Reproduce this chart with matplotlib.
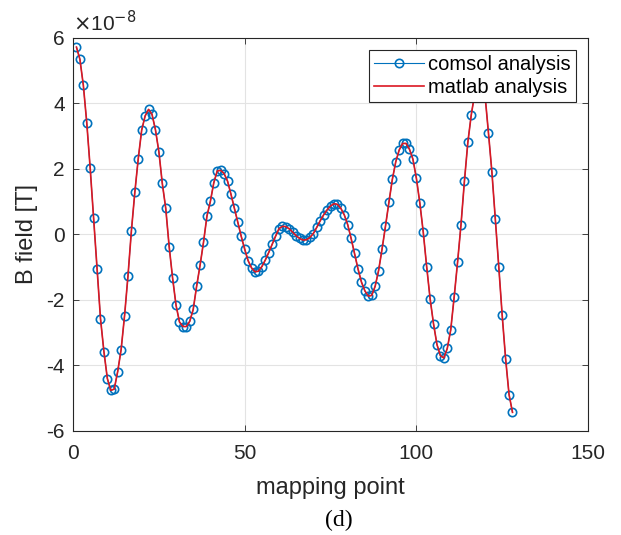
import matplotlib.pyplot as plt
from matplotlib.ticker import FuncFormatter
import numpy as np

# mapping point index along the path
mapping_point = list(range(1, 129))

# B field in units of 1e-8 T, comsol result
b_comsol = [
    5.72, 5.35, 4.56, 3.41, 2.02, 0.49, -1.04, -2.57, -3.58, -4.40,
    -4.76, -4.72, -4.19, -3.52, -2.49, -1.27, 0.11, 1.29, 2.32, 3.19,
    3.62, 3.82, 3.67, 3.20, 2.53, 1.56, 0.80, -0.37, -1.33, -2.16,
    -2.67, -2.81, -2.81, -2.65, -2.29, -1.58, -0.94, -0.24, 0.56, 1.01,
    1.58, 1.94, 1.96, 1.86, 1.63, 1.23, 0.80, 0.37, -0.06, -0.45,
    -0.80, -1.02, -1.14, -1.12, -0.98, -0.78, -0.55, -0.30, -0.05, 0.18,
    0.25, 0.24, 0.17, 0.07, -0.04, -0.12, -0.17, -0.16, -0.09, 0.03,
    0.22, 0.42, 0.60, 0.75, 0.87, 0.94, 0.92, 0.80, 0.60, 0.30,
    -0.12, -0.58, -1.05, -1.45, -1.72, -1.88, -1.86, -1.58, -1.10, -0.45,
    0.25, 0.98, 1.68, 2.22, 2.58, 2.78, 2.78, 2.60, 2.30, 1.72,
    0.97, 0.08, -0.98, -1.96, -2.73, -3.36, -3.70, -3.77, -3.48, -2.92,
    -1.92, -0.85, 0.30, 1.63, 2.82, 3.66, 4.30, 4.70, 4.68, 4.25,
    3.10, 1.91, 0.47, -0.98, -2.47, -3.80, -4.89, -5.43,
]
# matlab result lies on top of the comsol points
b_matlab = list(b_comsol)

x_ticks = [0, 50, 100, 150]
y_ticks = [-6e-8, -4e-8, -2e-8, 0, 2e-8, 4e-8, 6e-8]

plt.rcParams['font.family'] = ['Liberation Sans', 'DejaVu Sans']
plt.rcParams['axes.unicode_minus'] = False

fig = plt.figure(figsize=(6.21, 5.35), dpi=100)
ax = fig.add_axes([0.1176, 0.1944, 0.8293, 0.7346])

ax.plot(mapping_point, np.array(b_comsol) * 1e-8, color='#0072BD', lw=0.8,
        marker='o', ms=6, mfc='none', mec='#0072BD', mew=1.2,
        label='comsol analysis')
ax.plot(mapping_point, np.array(b_matlab) * 1e-8, color='#dc1822', lw=1.2,
        label='matlab analysis')

ax.set_xlim(0, 150)
ax.set_ylim(-6e-8, 6e-8)
ax.set_xticks(x_ticks)
ax.set_yticks(y_ticks)
# tick labels in units of 1e-8, exponent written above the axis
ax.yaxis.set_major_formatter(FuncFormatter(lambda v, p: f'{round(v / 1e-8):d}'))
ax.text(0.0, 1.008, r'$\times$10$^{\mathrm{-8}}$', transform=ax.transAxes,
        fontsize=15, color='#262626', ha='left', va='bottom')

ax.grid(True, color='#e3e3e3', lw=0.8)
ax.set_axisbelow(True)
ax.tick_params(direction='in', length=4, width=0.6, top=True, right=True,
               labelsize=15, colors='#262626')
ax.tick_params(axis='x', pad=9.5)
ax.tick_params(axis='y', pad=6)
for sp in ax.spines.values():
    sp.set_color('#262626')
    sp.set_linewidth(0.8)

ax.set_xlabel('mapping point', fontsize=17, color='#262626', labelpad=10)
ax.set_ylabel('B field [T]', fontsize=17, color='#262626', labelpad=6)

leg = ax.legend(loc='upper right', fontsize=14.5, fancybox=False,
                edgecolor='#262626', framealpha=1, borderaxespad=0.6,
                borderpad=0.25, labelspacing=0.2, handlelength=2.5,
                handletextpad=0.2, numpoints=1)
leg.get_frame().set_linewidth(0.8)
leg.set_zorder(5)

fig.text(0.546, 0.028, '(d)', fontsize=17, family='Liberation Serif',
         ha='center', va='center')

fig.savefig('out.png', dpi=100)
